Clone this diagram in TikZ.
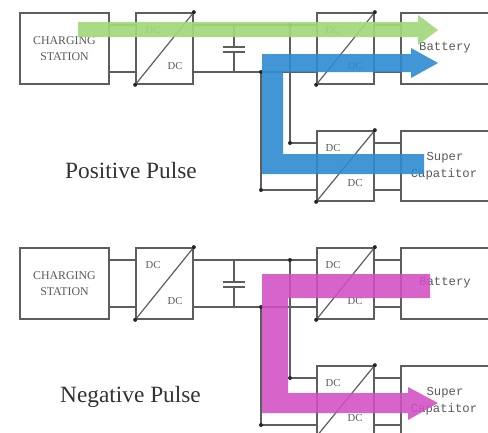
\documentclass[tikz,border=0pt]{standalone}
\usepackage{fontspec}
\setmainfont{Liberation Serif}
\setmonofont{Liberation Mono}
\definecolor{wire}{HTML}{5E5E5E}
\definecolor{ink}{HTML}{5A5A5A}
\tikzset{
  x=0.75pt,y=-0.75pt,
  blockbox/.style n args={2}{draw=wire,line width=1.25pt,fill=none,inner sep=0pt,minimum width=#1*0.75pt,minimum height=#2*0.75pt},
  wireline/.style={draw=wire,line width=1.1pt},
  thinline/.style={draw=wire,line width=0.9pt},
  dotmark/.style={circle,fill=black!85,inner sep=0pt,minimum size=3pt},
  dctext/.style={text=ink,font=\fontsize{8}{9}\selectfont,inner sep=0pt},
  sttext/.style={text=ink,font=\fontsize{8.9}{12}\selectfont,align=center,inner sep=0pt},
  monotext/.style={text=ink,font=\ttfamily\fontsize{9.2}{11}\selectfont,inner sep=0pt},
  titletext/.style={text=black!80,font=\fontsize{17.5}{20}\selectfont,inner sep=0pt},
  greenflow/.style={fill=HTML1,fill opacity=.92,draw=none},
  blueflow/.style={fill=HTML2,fill opacity=.9,draw=none},
  pinkflow/.style={fill=HTML3,fill opacity=.88,draw=none},
}
\definecolor{HTML1}{HTML}{A2D87C}
\definecolor{HTML2}{HTML}{2F8BD2}
\definecolor{HTML3}{HTML}{D24FC4}
\begin{document}
\begin{tikzpicture}
\clip (0,0) rectangle (488,432);
\fill[white] (0,0) rectangle (488,432);
\foreach \p/\off in {a/0,b/235}{
\begin{scope}[shift={(0,\off)}]
  % blocks
  \node[blockbox={89}{71},sttext] (st\p) at (64.5,48.5) {CHARGING\\STATION};
  \node[blockbox={57}{71}] (dcl\p) at (164.5,48.5) {};
  \node[blockbox={57}{71}] (dct\p) at (345.5,48.5) {};
  \node[blockbox={57}{70}] (dcb\p) at (345.5,166) {};
  \node[blockbox={100}{71}] (bat\p) at (451,48.5) {};
  \node[blockbox={100}{70}] (sup\p) at (451,166) {};
  % rails
  \coordinate (u\p) at (0,25);
  \coordinate (l\p) at (0,72);
  \coordinate (us\p) at (0,143);
  \coordinate (ls\p) at (0,190);
  \coordinate (bu\p) at (290,25);
  \coordinate (bl\p) at (261,72);
  \coordinate (bus\p) at (290,143);
  \coordinate (bls\p) at (261,190);
  \coordinate (capt\p) at (234,25);
  \coordinate (capb\p) at (234,72);
  \coordinate (cap1\p) at (234,47);
  \coordinate (cap2\p) at (234,52);
  % wires
  \draw[wireline] (st\p.east |- u\p) -- (dcl\p.west |- u\p);
  \draw[wireline] (st\p.east |- l\p) -- (dcl\p.west |- l\p);
  \draw[wireline] (dcl\p.east |- u\p) -- (dct\p.west |- u\p);
  \draw[wireline] (dcl\p.east |- l\p) -- (dct\p.west |- l\p);
  \draw[wireline] (dct\p.east |- u\p) -- (bat\p.west |- u\p);
  \draw[wireline] (dct\p.east |- l\p) -- (bat\p.west |- l\p);
  \draw[wireline] (dcb\p.east |- us\p) -- (sup\p.west |- us\p);
  \draw[wireline] (dcb\p.east |- ls\p) -- (sup\p.west |- ls\p);
  \draw[wireline] (bu\p) -- (bus\p) -- (dcb\p.west |- us\p);
  \draw[wireline] (bl\p) -- (bls\p) -- (dcb\p.west |- ls\p);
  % capacitor
  \draw[wireline] (capt\p) -- (cap1\p);
  \draw[wireline] (cap2\p) -- (capb\p);
  \draw[wireline] ([xshift=-8.6pt]cap1\p) -- ([xshift=8.6pt]cap1\p);
  \draw[wireline] ([xshift=-8.6pt]cap2\p) -- ([xshift=8.6pt]cap2\p);
  % diagonals
  \draw[thinline] (dcl\p.south west) -- (dcl\p.north east);
  \draw[thinline] (dct\p.south west) -- (dct\p.north east);
  \draw[thinline] (dcb\p.south west) -- (dcb\p.north east);
  % dots
  \foreach \q in {dcl\p.south west,dcl\p.north east,dct\p.south west,dct\p.north east,dcb\p.south west,dcb\p.north east,bu\p,bl\p,bus\p,bls\p}
    \node[dotmark] at (\q) {};
  % texts
  \node[dctext] at (153,30) {DC};
  \node[dctext] at (175,66) {DC};
  \node[dctext] at (333,30) {DC};
  \node[dctext] at (355,66) {DC};
  \node[dctext] at (333,148) {DC};
  \node[dctext] at (355,183) {DC};
  \node[monotext] at (445,48) {Battery};
  \node[monotext] at (445,158) {Super};
  \node[monotext] at (444,174) {Capatitor};
\end{scope}
}
\node[titletext] (tp) at (131,170.5) {Positive Pulse};
\node[titletext] (tn) at (130.5,396.5) {Negative Pulse};
% flows
\fill[greenflow] (78,22) -- (418,22) -- (418,15) -- (438,30) -- (418,45) -- (418,37) -- (78,37) -- cycle;
\fill[blueflow] (262,54) -- (411,54) -- (411,48) -- (438,63) -- (411,78) -- (411,72) -- (283,72) -- (283,154) -- (424,154) -- (424,174) -- (262,174) -- cycle;
\fill[pinkflow] (262,274) -- (430,274) -- (430,298) -- (288,298) -- (288,393) -- (408,393) -- (408,387) -- (438,403) -- (408,420) -- (408,413) -- (262,413) -- cycle;
\end{tikzpicture}
\end{document}
